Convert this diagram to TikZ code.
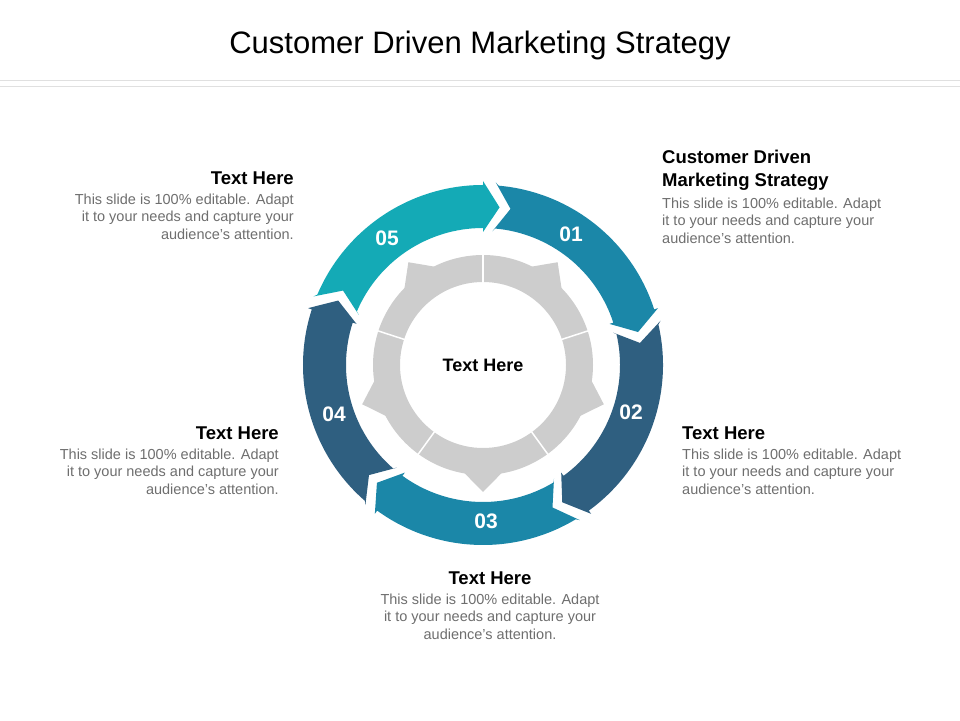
\documentclass[tikz,border=0pt]{standalone}
\usepackage{fontspec}
\setmainfont{Liberation Sans}
\usetikzlibrary{positioning}
\definecolor{tealA}{HTML}{1B87A8}
\definecolor{navyB}{HTML}{2F5F80}
\definecolor{cyanC}{HTML}{14AAB6}
\definecolor{ringgray}{HTML}{CDCDCD}
\definecolor{bodygray}{HTML}{6E6E6E}
\tikzset{
  heading/.style={font=\fontsize{18.5}{23}\selectfont\bfseries, inner sep=0pt},
  body/.style={font=\fontsize{14.5}{17.5}\selectfont, text=bodygray, inner sep=0pt},
  num/.style={font=\fontsize{21}{24}\selectfont\bfseries, text=white}
}
\begin{document}
\begin{tikzpicture}[x=1pt,y=1pt]
  \useasboundingbox (0,0) rectangle (960,720);
  \def\R{180}\def\r{137}\def\m{158.5}
  \node[font=\fontsize{31}{36}\selectfont] (title) at (480,675) {Customer Driven Marketing Strategy};
  \draw[black!12] (0,640)--(960,640);
  \draw[black!12] (0,634)--(960,634);
  \begin{scope}[shift={(483,355)}]
    % outer arrows, clockwise
    \foreach \a/\c in {90/tealA,18/navyB,-54/tealA,-126/navyB,162/cyanC}{
      \pgfmathsetmacro\e{\a-72}
      \fill[\c] (\a-4:\R+3) -- (\a-10:\m) -- (\a-4:\r-3) -- (\a-5:\r)
        arc[start angle=\a-5, end angle=\e, radius=\r]
        -- (\e:\r-4) -- (\e-6:\m) -- (\e:\R+4) -- (\e:\R)
        arc[start angle=\e, end angle=\a-5, radius=\R] -- cycle;
    }
    % inner gray ring
    \fill[ringgray, even odd rule] (0,0) circle[radius=110] (0,0) circle[radius=83];
    \foreach \t in {54,-18,-90,-162,126}
      \fill[ringgray] (\t-11:108) -- (\t:127) -- (\t+11:108) -- cycle;
    \foreach \d in {90,18,-54,-126,162}
      \draw[white, line width=1.5pt] (\d:82) -- (\d:112);
    \node[font=\fontsize{18}{20}\selectfont\bfseries] (centre) at (0,0) {Text Here};
  \end{scope}
  \node[num] (n5) at (387,482) {05};
  \node[num] (n1) at (571,486) {01};
  \node[num] (n2) at (631,308) {02};
  \node[num] (n3) at (486,199) {03};
  \node[num] (n4) at (334,306) {04};
  % text blocks
  \node[heading, anchor=north west, align=left] (h1) at (662,570) {Customer Driven\\Marketing Strategy};
  \node[body, below=7pt of h1.south west, anchor=north west, align=left] (b1)
    {This slide is 100\% editable. Adapt\\it to your needs and capture your\\audience's attention.};
  \node[heading, anchor=north east] (h5) at (294,548) {Text Here};
  \node[body, below=8pt of h5.south east, anchor=north east, align=right] (b5)
    {This slide is 100\% editable. Adapt\\it to your needs and capture your\\audience's attention.};
  \node[heading, anchor=north west] (h2) at (682,293) {Text Here};
  \node[body, below=8pt of h2.south west, anchor=north west, align=left] (b2)
    {This slide is 100\% editable. Adapt\\it to your needs and capture your\\audience's attention.};
  \node[heading, anchor=north east] (h4) at (279,293) {Text Here};
  \node[body, below=8pt of h4.south east, anchor=north east, align=right] (b4)
    {This slide is 100\% editable. Adapt\\it to your needs and capture your\\audience's attention.};
  \node[heading, anchor=north] (h3) at (490,148) {Text Here};
  \node[body, below=8pt of h3.south, anchor=north, align=center] (b3)
    {This slide is 100\% editable. Adapt\\it to your needs and capture your\\audience's attention.};
\end{tikzpicture}
\end{document}
